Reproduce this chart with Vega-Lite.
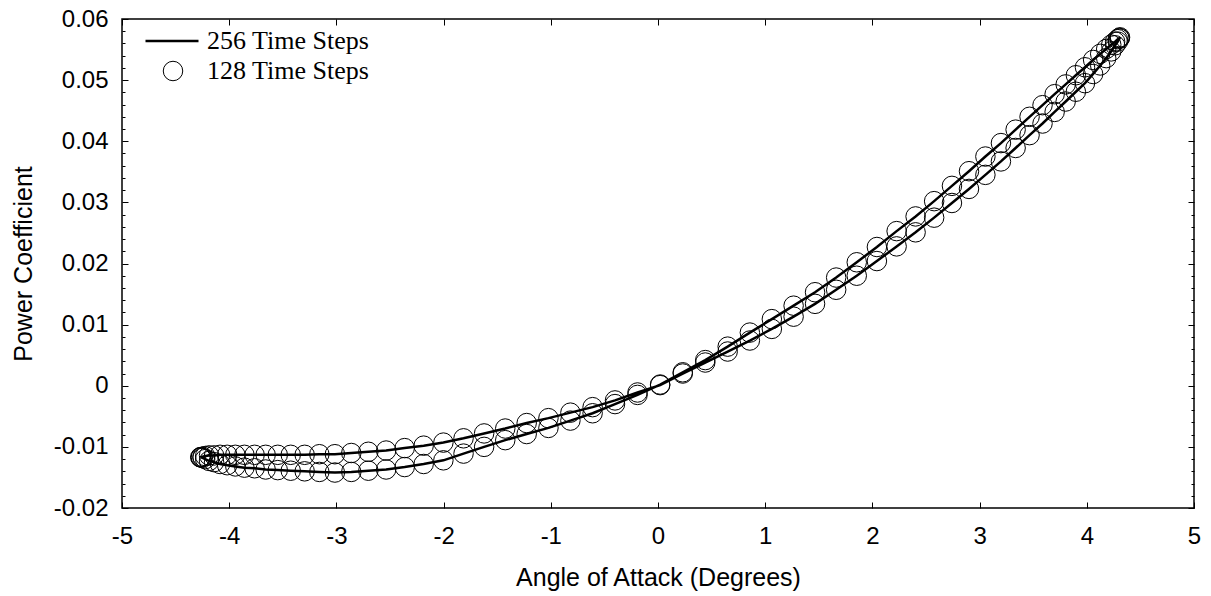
{
  "$schema": "https://vega.github.io/schema/vega-lite/v6.json",
  "width": 1072,
  "height": 489,
  "autosize": {"type": "none"},
  "padding": {"left": 122, "top": 19, "right": 17, "bottom": 88},
  "background": "white",
  "config": {
    "view": {"stroke": "black", "strokeWidth": 1.5},
    "axis": {"domain": false, "grid": false, "labelFont": "Liberation Sans", "titleFont": "Liberation Sans", "labelColor": "black", "titleColor": "black", "tickColor": "black", "tickWidth": 1, "titleFontWeight": "normal", "labelFlush": false, "labelOverlap": false, "labelBound": false},
    "legend": {"padding": 0, "labelFont": "Liberation Serif", "labelFontSize": 26, "labelColor": "black", "labelLimit": 400, "titlePadding": 0}
  },
  "datasets": {
    "loop": [
      {"k": 0, "aoa": 0.020, "cp": 0.0002},
      {"k": 1, "aoa": 0.231, "cp": 0.0022},
      {"k": 2, "aoa": 0.441, "cp": 0.0042},
      {"k": 3, "aoa": 0.650, "cp": 0.0064},
      {"k": 4, "aoa": 0.857, "cp": 0.0087},
      {"k": 5, "aoa": 1.062, "cp": 0.0109},
      {"k": 6, "aoa": 1.265, "cp": 0.0131},
      {"k": 7, "aoa": 1.465, "cp": 0.0153},
      {"k": 8, "aoa": 1.662, "cp": 0.0177},
      {"k": 9, "aoa": 1.854, "cp": 0.0202},
      {"k": 10, "aoa": 2.042, "cp": 0.0227},
      {"k": 11, "aoa": 2.226, "cp": 0.0253},
      {"k": 12, "aoa": 2.403, "cp": 0.0277},
      {"k": 13, "aoa": 2.576, "cp": 0.0302},
      {"k": 14, "aoa": 2.742, "cp": 0.0327},
      {"k": 15, "aoa": 2.901, "cp": 0.0351},
      {"k": 16, "aoa": 3.054, "cp": 0.0375},
      {"k": 17, "aoa": 3.199, "cp": 0.0397},
      {"k": 18, "aoa": 3.336, "cp": 0.0419},
      {"k": 19, "aoa": 3.466, "cp": 0.0440},
      {"k": 20, "aoa": 3.587, "cp": 0.0459},
      {"k": 21, "aoa": 3.700, "cp": 0.0477},
      {"k": 22, "aoa": 3.803, "cp": 0.0493},
      {"k": 23, "aoa": 3.898, "cp": 0.0508},
      {"k": 24, "aoa": 3.983, "cp": 0.0521},
      {"k": 25, "aoa": 4.059, "cp": 0.0533},
      {"k": 26, "aoa": 4.125, "cp": 0.0543},
      {"k": 27, "aoa": 4.181, "cp": 0.0551},
      {"k": 28, "aoa": 4.228, "cp": 0.0558},
      {"k": 29, "aoa": 4.264, "cp": 0.0563},
      {"k": 30, "aoa": 4.289, "cp": 0.0567},
      {"k": 31, "aoa": 4.305, "cp": 0.0569},
      {"k": 32, "aoa": 4.310, "cp": 0.0570},
      {"k": 33, "aoa": 4.305, "cp": 0.0568},
      {"k": 34, "aoa": 4.289, "cp": 0.0563},
      {"k": 35, "aoa": 4.264, "cp": 0.0557},
      {"k": 36, "aoa": 4.228, "cp": 0.0547},
      {"k": 37, "aoa": 4.181, "cp": 0.0536},
      {"k": 38, "aoa": 4.125, "cp": 0.0524},
      {"k": 39, "aoa": 4.059, "cp": 0.0510},
      {"k": 40, "aoa": 3.983, "cp": 0.0495},
      {"k": 41, "aoa": 3.898, "cp": 0.0481},
      {"k": 42, "aoa": 3.803, "cp": 0.0465},
      {"k": 43, "aoa": 3.700, "cp": 0.0448},
      {"k": 44, "aoa": 3.587, "cp": 0.0429},
      {"k": 45, "aoa": 3.466, "cp": 0.0410},
      {"k": 46, "aoa": 3.336, "cp": 0.0389},
      {"k": 47, "aoa": 3.199, "cp": 0.0367},
      {"k": 48, "aoa": 3.054, "cp": 0.0345},
      {"k": 49, "aoa": 2.901, "cp": 0.0322},
      {"k": 50, "aoa": 2.742, "cp": 0.0299},
      {"k": 51, "aoa": 2.576, "cp": 0.0275},
      {"k": 52, "aoa": 2.403, "cp": 0.0251},
      {"k": 53, "aoa": 2.226, "cp": 0.0228},
      {"k": 54, "aoa": 2.042, "cp": 0.0204},
      {"k": 55, "aoa": 1.854, "cp": 0.0180},
      {"k": 56, "aoa": 1.662, "cp": 0.0157},
      {"k": 57, "aoa": 1.465, "cp": 0.0134},
      {"k": 58, "aoa": 1.265, "cp": 0.0113},
      {"k": 59, "aoa": 1.062, "cp": 0.0093},
      {"k": 60, "aoa": 0.857, "cp": 0.0074},
      {"k": 61, "aoa": 0.650, "cp": 0.0056},
      {"k": 62, "aoa": 0.441, "cp": 0.0038},
      {"k": 63, "aoa": 0.231, "cp": 0.0020},
      {"k": 64, "aoa": 0.020, "cp": 0.0001},
      {"k": 65, "aoa": -0.191, "cp": -0.0011},
      {"k": 66, "aoa": -0.401, "cp": -0.0024},
      {"k": 67, "aoa": -0.610, "cp": -0.0035},
      {"k": 68, "aoa": -0.817, "cp": -0.0044},
      {"k": 69, "aoa": -1.022, "cp": -0.0053},
      {"k": 70, "aoa": -1.225, "cp": -0.0061},
      {"k": 71, "aoa": -1.425, "cp": -0.0070},
      {"k": 72, "aoa": -1.622, "cp": -0.0078},
      {"k": 73, "aoa": -1.814, "cp": -0.0086},
      {"k": 74, "aoa": -2.002, "cp": -0.0093},
      {"k": 75, "aoa": -2.186, "cp": -0.0098},
      {"k": 76, "aoa": -2.363, "cp": -0.0102},
      {"k": 77, "aoa": -2.536, "cp": -0.0106},
      {"k": 78, "aoa": -2.702, "cp": -0.0108},
      {"k": 79, "aoa": -2.861, "cp": -0.0110},
      {"k": 80, "aoa": -3.014, "cp": -0.0112},
      {"k": 81, "aoa": -3.159, "cp": -0.0112},
      {"k": 82, "aoa": -3.296, "cp": -0.0113},
      {"k": 83, "aoa": -3.426, "cp": -0.0113},
      {"k": 84, "aoa": -3.547, "cp": -0.0113},
      {"k": 85, "aoa": -3.660, "cp": -0.0113},
      {"k": 86, "aoa": -3.763, "cp": -0.0113},
      {"k": 87, "aoa": -3.858, "cp": -0.0113},
      {"k": 88, "aoa": -3.943, "cp": -0.0113},
      {"k": 89, "aoa": -4.019, "cp": -0.0113},
      {"k": 90, "aoa": -4.085, "cp": -0.0113},
      {"k": 91, "aoa": -4.141, "cp": -0.0114},
      {"k": 92, "aoa": -4.188, "cp": -0.0114},
      {"k": 93, "aoa": -4.224, "cp": -0.0115},
      {"k": 94, "aoa": -4.249, "cp": -0.0116},
      {"k": 95, "aoa": -4.265, "cp": -0.0117},
      {"k": 96, "aoa": -4.270, "cp": -0.0117},
      {"k": 97, "aoa": -4.265, "cp": -0.0117},
      {"k": 98, "aoa": -4.249, "cp": -0.0118},
      {"k": 99, "aoa": -4.224, "cp": -0.0120},
      {"k": 100, "aoa": -4.188, "cp": -0.0123},
      {"k": 101, "aoa": -4.141, "cp": -0.0125},
      {"k": 102, "aoa": -4.085, "cp": -0.0128},
      {"k": 103, "aoa": -4.019, "cp": -0.0130},
      {"k": 104, "aoa": -3.943, "cp": -0.0132},
      {"k": 105, "aoa": -3.858, "cp": -0.0134},
      {"k": 106, "aoa": -3.763, "cp": -0.0135},
      {"k": 107, "aoa": -3.660, "cp": -0.0137},
      {"k": 108, "aoa": -3.547, "cp": -0.0138},
      {"k": 109, "aoa": -3.426, "cp": -0.0139},
      {"k": 110, "aoa": -3.296, "cp": -0.0140},
      {"k": 111, "aoa": -3.159, "cp": -0.0141},
      {"k": 112, "aoa": -3.014, "cp": -0.0142},
      {"k": 113, "aoa": -2.861, "cp": -0.0141},
      {"k": 114, "aoa": -2.702, "cp": -0.0139},
      {"k": 115, "aoa": -2.536, "cp": -0.0137},
      {"k": 116, "aoa": -2.363, "cp": -0.0133},
      {"k": 117, "aoa": -2.186, "cp": -0.0128},
      {"k": 118, "aoa": -2.002, "cp": -0.0122},
      {"k": 119, "aoa": -1.814, "cp": -0.0111},
      {"k": 120, "aoa": -1.622, "cp": -0.0100},
      {"k": 121, "aoa": -1.425, "cp": -0.0089},
      {"k": 122, "aoa": -1.225, "cp": -0.0079},
      {"k": 123, "aoa": -1.022, "cp": -0.0069},
      {"k": 124, "aoa": -0.817, "cp": -0.0057},
      {"k": 125, "aoa": -0.610, "cp": -0.0045},
      {"k": 126, "aoa": -0.401, "cp": -0.0030},
      {"k": 127, "aoa": -0.191, "cp": -0.0015},
      {"k": 128, "aoa": 0.020, "cp": 0.0002}
    ]
  },
  "data": {"name": "loop"},
  "layer": [
    {
      "mark": {"type": "line", "strokeWidth": 2.5, "interpolate": "linear"},
      "encoding": {
        "x": {
          "field": "aoa", "type": "quantitative",
          "scale": {"domain": [-5, 5], "nice": false, "zero": false},
          "axis": {"orient": "bottom", "values": [-5, -4, -3, -2, -1, 0, 1, 2, 3, 4, 5], "tickSize": -6, "labelPadding": 22, "labelFontSize": 24, "labelExpr": "replace(datum.label, '\u2212', '-')", "title": "Angle of Attack (Degrees)", "titleFontSize": 25, "titlePadding": 17}
        },
        "y": {
          "field": "cp", "type": "quantitative",
          "scale": {"domain": [-0.02, 0.06], "nice": false, "zero": false},
          "axis": {"orient": "left", "values": [-0.02, -0.018, -0.016, -0.014, -0.012, -0.01, -0.008, -0.006, -0.004, -0.002, 0, 0.002, 0.004, 0.006, 0.008, 0.01, 0.012, 0.014, 0.016, 0.018, 0.02, 0.022, 0.024, 0.026, 0.028, 0.03, 0.032, 0.034, 0.036, 0.038, 0.04, 0.042, 0.044, 0.046, 0.048, 0.05, 0.052, 0.054, 0.056, 0.058, 0.06],
            "tickSize": {"condition": {"test": "abs(round(datum.value * 1000)) % 10 == 0", "value": -6}, "value": -3},
            "labelPadding": 20, "labelFontSize": 24,
            "labelExpr": "abs(round(datum.value * 1000)) % 10 == 0 ? (datum.value == 0 ? '0' : replace(format(datum.value, '.2f'), '\u2212', '-')) : ''",
            "title": "Power Coefficient", "titleFontSize": 25, "titlePadding": 17}
        },
        "order": {"field": "k", "type": "quantitative"},
        "stroke": {"datum": "256 Time Steps", "type": "nominal", "scale": {"range": ["black"]},
          "legend": {"title": null, "orient": "none", "legendX": 22, "legendY": -6, "symbolType": "stroke", "symbolSize": 2809, "symbolStrokeWidth": 2.5, "labelOffset": 7, "labelLimit": 400}}
      }
    },
    {
      "transform": [{"filter": "datum.k < 128"}],
      "mark": {"type": "point", "shape": "circle", "filled": false, "color": "black", "strokeWidth": 1, "size": 380, "opacity": 1},
      "encoding": {
        "x": {"field": "aoa", "type": "quantitative", "axis": {"orient": "top", "values": [-5, -4, -3, -2, -1, 0, 1, 2, 3, 4, 5], "tickSize": -6, "labels": false, "title": null}},
        "y": {"field": "cp", "type": "quantitative", "axis": {"orient": "right", "values": [-0.02, -0.018, -0.016, -0.014, -0.012, -0.01, -0.008, -0.006, -0.004, -0.002, 0, 0.002, 0.004, 0.006, 0.008, 0.01, 0.012, 0.014, 0.016, 0.018, 0.02, 0.022, 0.024, 0.026, 0.028, 0.03, 0.032, 0.034, 0.036, 0.038, 0.04, 0.042, 0.044, 0.046, 0.048, 0.05, 0.052, 0.054, 0.056, 0.058, 0.06],
            "tickSize": {"condition": {"test": "abs(round(datum.value * 1000)) % 10 == 0", "value": -6}, "value": -3},
            "labels": false, "title": null}},
        "shape": {"datum": "128 Time Steps", "type": "nominal", "scale": {"range": ["circle"]},
          "legend": {"title": null, "orient": "none", "legendX": 38, "legendY": 39, "symbolSize": 380, "symbolStrokeColor": "black", "symbolFillColor": "transparent", "symbolStrokeWidth": 1, "labelOffset": 21, "labelLimit": 400}}
      }
    }
  ],
  "resolve": {"axis": {"x": "independent", "y": "independent"}}
}
